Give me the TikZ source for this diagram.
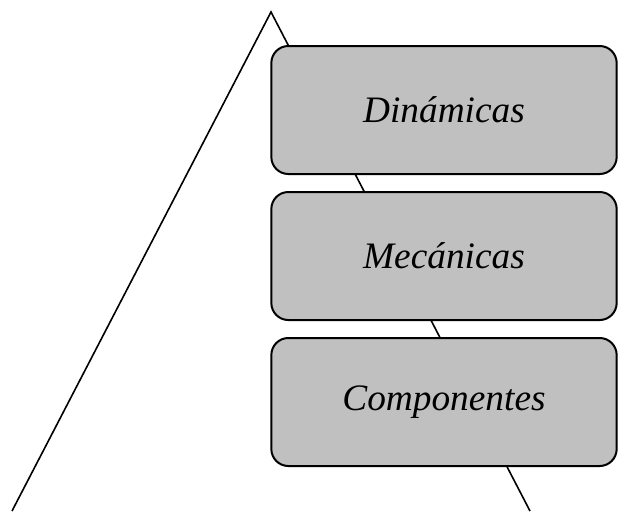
\documentclass[tikz,border=0pt]{standalone}
\usepackage{fontspec}
\setmainfont{Liberation Serif}
\definecolor{boxgray}{RGB}{192,192,192}
\usetikzlibrary{positioning}

\begin{document}
\begin{tikzpicture}[
    x=0.75pt, y=-0.75pt,
    nivel/.style={draw, fill=boxgray, line width=1.5pt, rounded corners=12.75pt,
      minimum width=259pt, minimum height=96pt, inner sep=0pt,
      font=\fontsize{28}{33}\selectfont\itshape, align=center},
    node distance=12pt,
  ]
    \useasboundingbox (0,0) rectangle (618,511);
    % triangle behind the levels
    \coordinate (apex) at (271,12);
    \coordinate (baseL) at (12,511);
    \coordinate (baseR) at (530,511);
    \draw[line width=1.2pt] (baseL) -- (apex) -- (baseR);
    \node[nivel] (din) at (444,110) {Dinámicas};
    \node[nivel, below=of din] (mec) {Mecánicas};
    \node[nivel, below=of mec] (comp) {Componentes};
  \end{tikzpicture}
\end{document}
